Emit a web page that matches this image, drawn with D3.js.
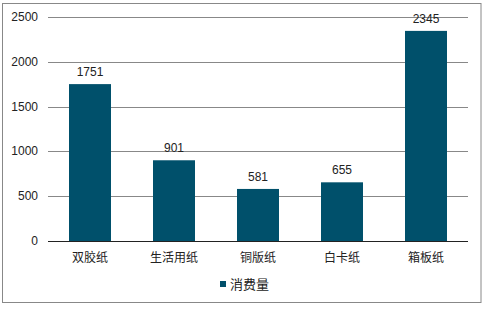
<!DOCTYPE html>
<html><head><meta charset="utf-8">
<script src="https://cdn.jsdelivr.net/npm/d3@7"></script>
<style>body{margin:0;background:#fff;}svg{display:block;font-family:"Liberation Sans",Arial,sans-serif;}</style>
</head><body><svg id="c" width="486" height="310"></svg>
<script>
const categories = ["双胶纸","生活用纸","铜版纸","白卡纸","箱板纸"];
const values = [1751, 901, 581, 655, 2345];
const yTicks = [0, 500, 1000, 1500, 2000, 2500];
const seriesName = "消费量";

const svg = d3.select("#c");
const color = "#00506b";
svg.append("rect").attr("x",2.5).attr("y",3.5).attr("width",478.5).attr("height",299)
  .attr("fill","#fff").attr("stroke","#888").attr("stroke-width",1);

const x = d3.scaleBand().domain(categories).range([48,468]).paddingInner(0.5).paddingOuter(0.25);
const y = d3.scaleLinear().domain([0,2500]).range([241,17]);

const g = svg.append("g");
g.selectAll("line.grid").data(yTicks.slice(1)).join("line")
  .attr("x1",48).attr("x2",468).attr("y1",d=>Math.round(y(d))+0.5).attr("y2",d=>Math.round(y(d))+0.5)
  .attr("stroke","#888").attr("stroke-width",1);

g.selectAll("rect.bar").data(values).join("rect")
  .attr("x",(d,i)=>x(categories[i])).attr("width",x.bandwidth())
  .attr("y",d=>y(d)).attr("height",d=>y(0)-y(d)).attr("fill",color);

g.append("line").attr("x1",48).attr("x2",468).attr("y1",Math.round(y(0))+0.5).attr("y2",Math.round(y(0))+0.5)
  .attr("stroke","#222").attr("stroke-width",1);

g.selectAll("text.yt").data(yTicks).join("text")
  .attr("x",38).attr("y",d=>y(d)+4).attr("text-anchor","end")
  .attr("font-size",12).attr("fill","#222").text(d=>d);

g.selectAll("text.val").data(values).join("text")
  .attr("x",(d,i)=>x(categories[i])+x.bandwidth()/2).attr("y",d=>y(d)-8)
  .attr("text-anchor","middle").attr("font-size",12).attr("fill","#222").text(d=>d);

g.selectAll("text.cat").data(categories).join("text")
  .attr("x",d=>x(d)+x.bandwidth()/2).attr("y",262)
  .attr("text-anchor","middle").attr("font-size",12).attr("fill","#222")
  .attr("font-family","'Noto Sans CJK SC',sans-serif").text(d=>d);

svg.append("rect").attr("x",220).attr("y",281).attr("width",6).attr("height",6).attr("fill",color);
svg.append("text").attr("x",230).attr("y",289).attr("font-size",13).attr("fill","#222")
  .attr("font-family","'Noto Sans CJK SC',sans-serif").text(seriesName);
</script></body></html>
